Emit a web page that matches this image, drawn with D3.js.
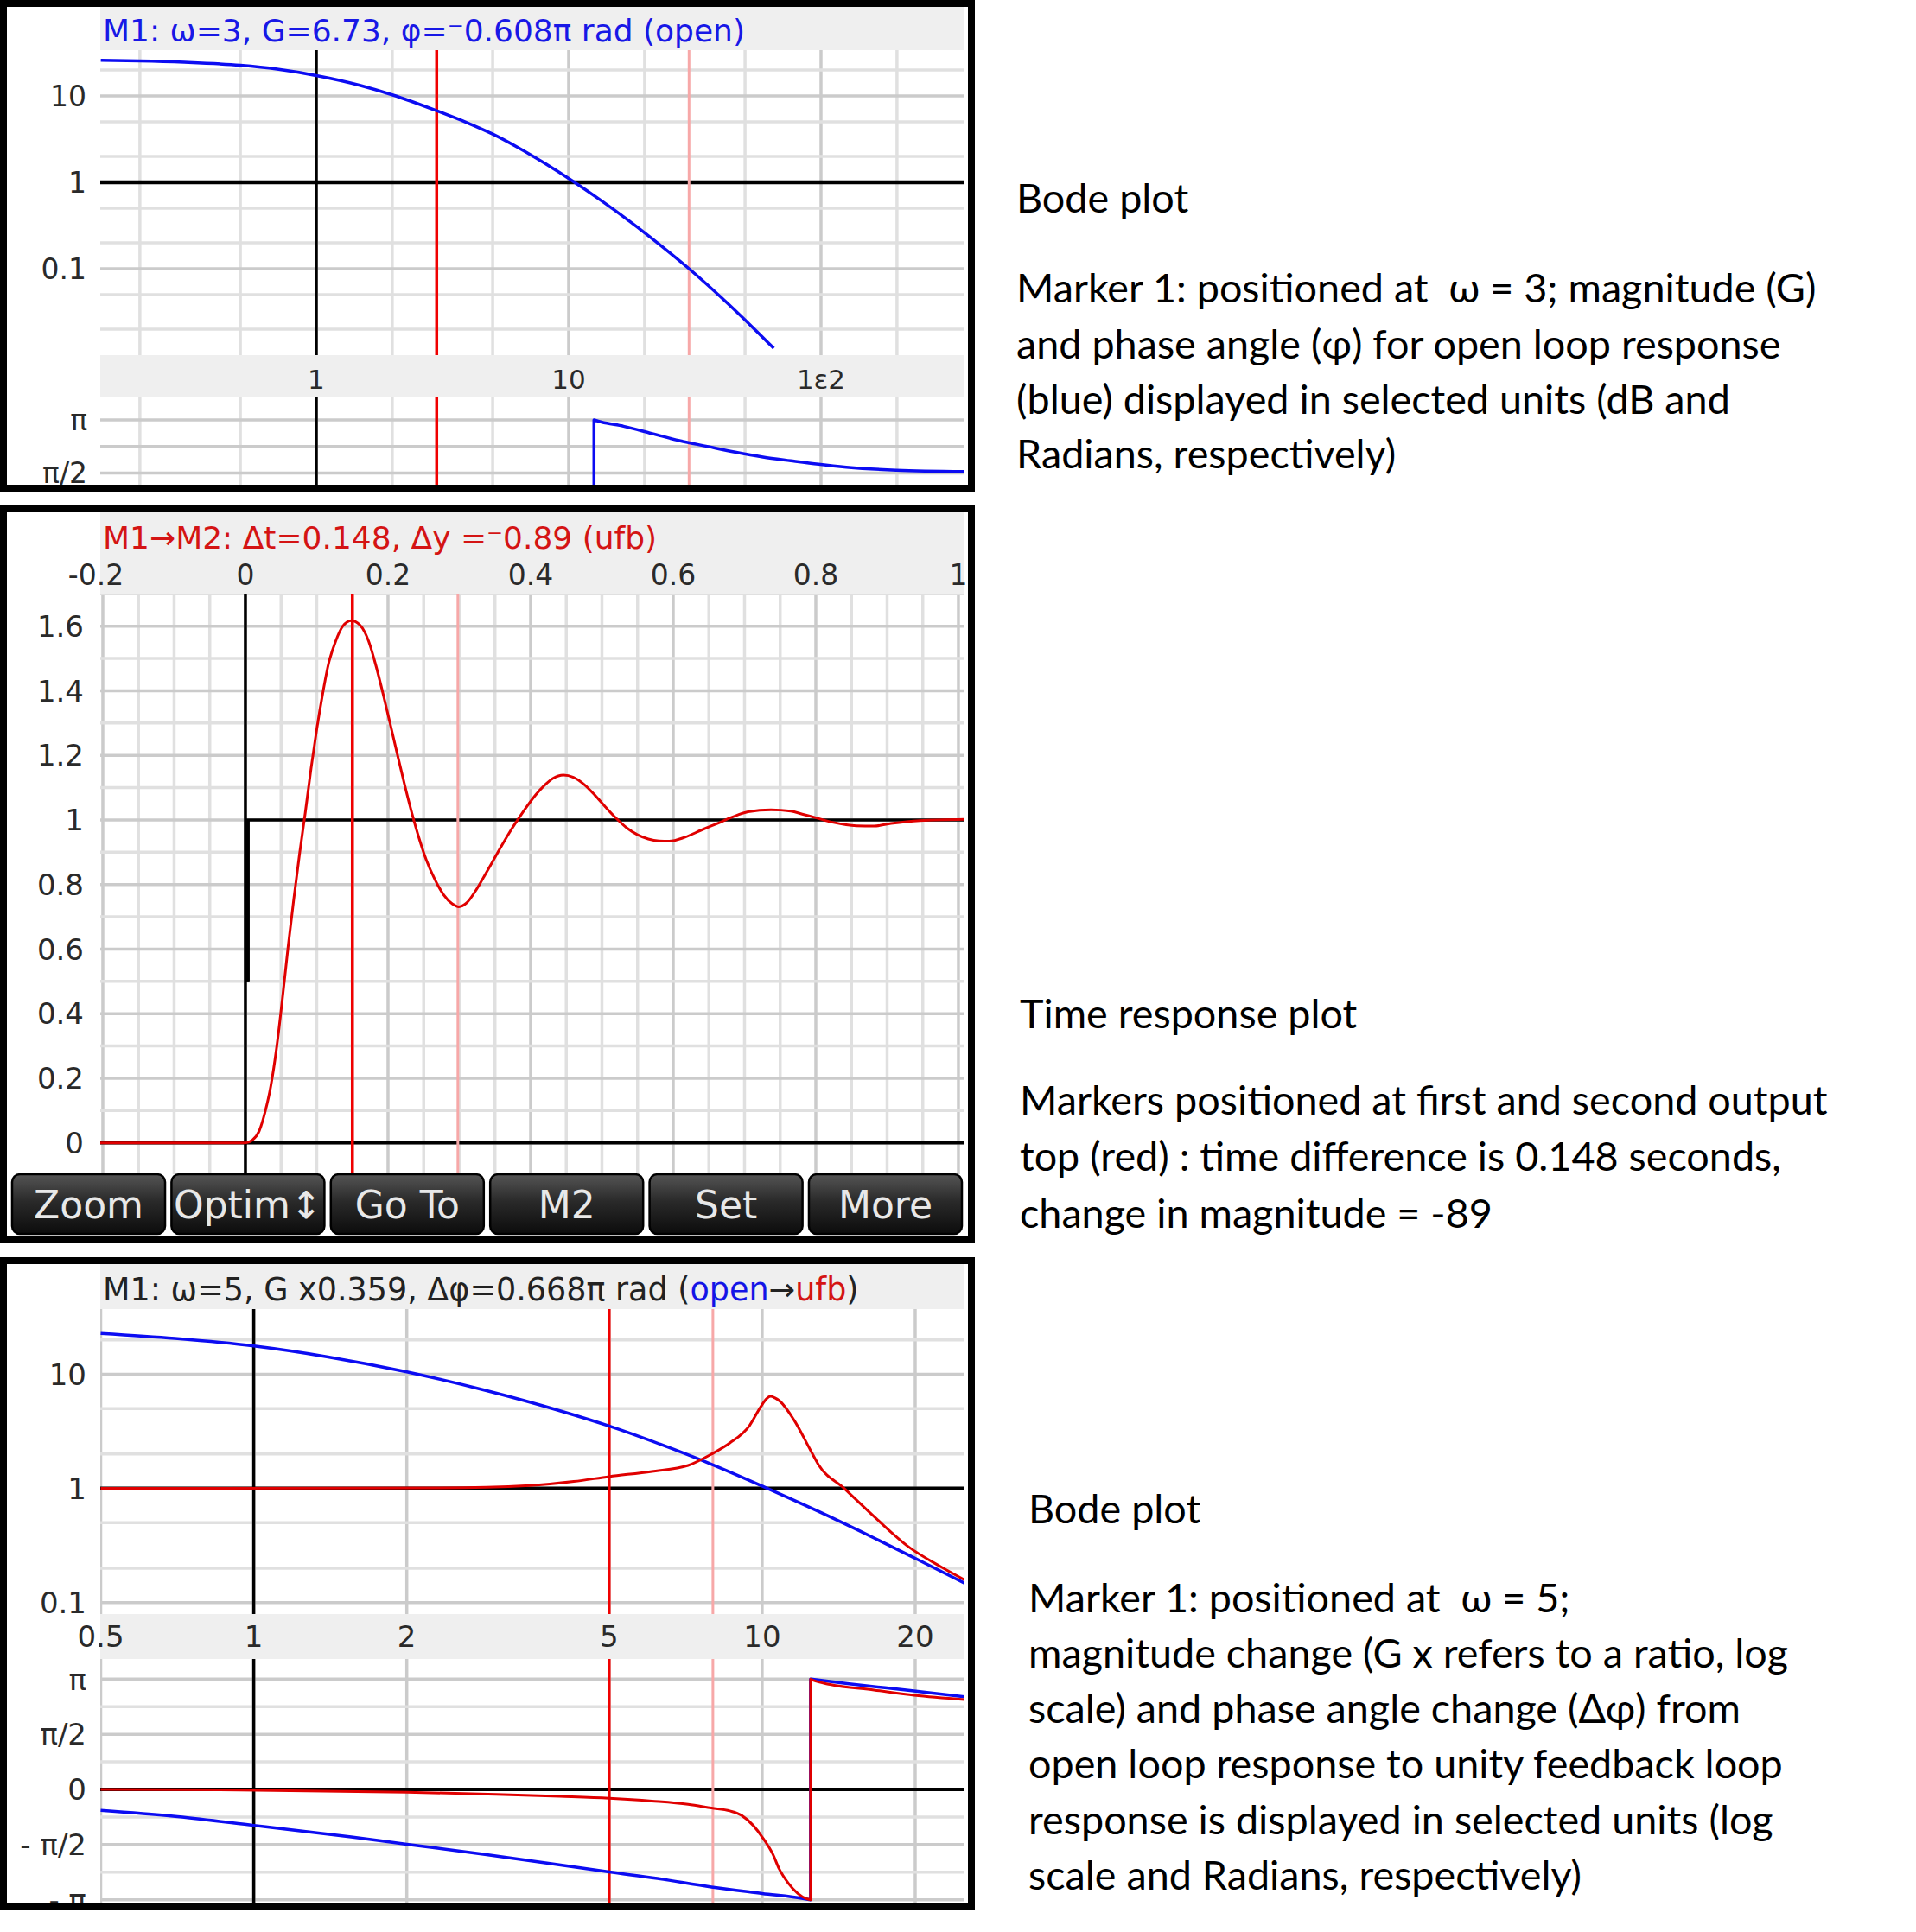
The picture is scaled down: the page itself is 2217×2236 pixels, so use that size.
<!DOCTYPE html>
<html><head><meta charset="utf-8">
<script src="https://cdn.jsdelivr.net/npm/d3@7"></script>
<style>body{margin:0;background:#fff}svg{display:block}</style>
</head><body>
<svg id="c" width="2217" height="2236"></svg>
<script>
// ================= DATA =================
// Panel 1 : open-loop Bode (marker at w=3)
const bode1Freq  = [0.14, 0.2, 0.3, 0.5, 0.7, 1, 1.5, 2, 3, 4, 5, 6.3, 8.1, 10.4, 13.5, 17.4, 20, 23, 30, 40, 54.5, 65];
const bode1Gain  = [25.8, 25.4, 24.5, 22.6, 20.4, 17.2, 13.2, 10.3, 6.74, 4.84, 3.62, 2.53, 1.64, 1.03, 0.611, 0.356, 0.261, 0.189, 0.1, 0.0473, 0.020, 0.012];
const bode1PhFreq = [12.6, 12.6, 13.5, 16.5, 21.3, 27.5, 35.4, 45.7, 58.9, 75.9, 97.8, 126, 199, 370];
const bode1Phase  = [-1.0, 1.0, 0.98, 0.94, 0.873, 0.805, 0.751, 0.697, 0.651, 0.616, 0.583, 0.556, 0.527, 0.514]; // x pi
const bode1Markers = [3, 30];
const bode1FreqGrid = [0.2, 0.5, 1, 2, 5, 10, 20, 50, 100, 200];
const bode1FreqTicks = [1, 10, 100];
const bode1FreqLabels = ["1", "10", "1\u03b52"];
const bode1GainGrid = [20, 10, 5, 2, 1, 0.5, 0.2, 0.1, 0.05, 0.02];
const bode1GainTicks = [10, 1, 0.1];
const bode1GainLabels = ["10", "1", "0.1"];
const bode1PhGrid = [1.25, 1, 0.75, 0.5];
const bode1PhTicks = [1, 0.5];
const bode1PhLabels = ["\u03c0", "\u03c0/2"];
const bode1Title = "M1: \u03c9=3, G=6.73, \u03c6=\u207b0.608\u03c0 rad (open)";

// Panel 2 : closed-loop step response
const stepT = [-0.2036, 0, 0.0093, 0.0194, 0.0275, 0.0356, 0.0436, 0.0517, 0.0598, 0.0679, 0.076, 0.084, 0.0921, 0.1002, 0.1083, 0.1164, 0.1265, 0.1366, 0.1487, 0.1608, 0.1729, 0.183, 0.1931, 0.2032, 0.2133, 0.2234, 0.2335, 0.2436, 0.2537, 0.2659, 0.278, 0.2901, 0.2994, 0.3103, 0.3224, 0.3345, 0.3467, 0.3588, 0.3709, 0.383, 0.3952, 0.4073, 0.4194, 0.4315, 0.446, 0.46, 0.475, 0.49, 0.505, 0.52, 0.535, 0.55, 0.565, 0.58, 0.594, 0.616, 0.64, 0.664, 0.682, 0.705, 0.737, 0.765, 0.781, 0.801, 0.825, 0.857, 0.8815, 0.9056, 0.9457, 1.0085];
const stepY = [0, 0, 0.008, 0.037, 0.095, 0.176, 0.292, 0.443, 0.606, 0.756, 0.896, 1.023, 1.16, 1.283, 1.39, 1.482, 1.553, 1.6, 1.617, 1.603, 1.553, 1.478, 1.39, 1.296, 1.201, 1.108, 1.021, 0.943, 0.876, 0.815, 0.768, 0.74, 0.731, 0.743, 0.779, 0.824, 0.871, 0.918, 0.963, 1.004, 1.043, 1.078, 1.107, 1.129, 1.139, 1.132, 1.11, 1.077, 1.04, 1.005, 0.975, 0.954, 0.941, 0.935, 0.934, 0.946, 0.969, 0.991, 1.008, 1.025, 1.031, 1.027, 1.018, 1.006, 0.992, 0.982, 0.981, 0.989, 0.998, 1.002];
const inputT = [0.003, 0.003, 1.0085];
const inputY = [0.5, 1, 1];
const stepMarkers = [0.150, 0.298];
const timeGrid = d3.range(-4, 21).map(i => i * 0.05);
const timeTicks = [-0.2, 0, 0.2, 0.4, 0.6, 0.8, 1];
const timeLabels = ["-0.2", "0", "0.2", "0.4", "0.6", "0.8", "1"];
const respGrid = d3.range(0, 18).map(i => i * 0.1);
const respTicks = [0, 0.2, 0.4, 0.6, 0.8, 1, 1.2, 1.4, 1.6];
const respLabels = ["0", "0.2", "0.4", "0.6", "0.8", "1", "1.2", "1.4", "1.6"];
const stepTitle = "M1\u2192M2: \u0394t=0.148, \u0394y =\u207b0.89 (ufb)";
const buttonLabels = ["Zoom", "Optim\u2195", "Go To", "M2", "Set", "More"];

// Panel 3 : open loop vs unity feedback Bode (marker at w=5)
const openFreq = [0.5, 0.7, 1, 1.4, 2, 2.85, 4, 5, 6.3, 8, 10, 12.9, 16.6, 20, 25];
const openGain = [22.8, 20.6, 17.7, 14.2, 10.5, 7.24, 4.79, 3.52, 2.44, 1.61, 1.05, 0.629, 0.368, 0.244, 0.148];
const ufbFreq = [0.5, 2.33, 3.49, 4.26, 5.0, 6.07, 7.15, 7.95, 8.64, 9.44, 9.93, 10.2, 10.39, 10.6, 10.84, 11.55, 12.45, 12.9, 14.5, 16.6, 19.4, 22.5, 25];
const ufbGain = [1.0, 1.01, 1.06, 1.15, 1.27, 1.41, 1.59, 2.0, 2.5, 3.54, 5.17, 6.1, 6.41, 6.2, 5.8, 3.98, 2.16, 1.62, 1.0, 0.567, 0.308, 0.205, 0.158];
const openPhFreq = [0.5, 0.694, 1, 1.555, 2, 2.85, 3.88, 5, 6.22, 7.95, 10, 12.1, 12.45, 12.45, 14.7, 19.9, 25];
const openPhase  = [-0.19, -0.243, -0.326, -0.431, -0.497, -0.589, -0.675, -0.748, -0.807, -0.885, -0.943, -0.99, -1.0, 1.0, 0.959, 0.893, 0.84];
const ufbPhFreq = [0.5, 0.94, 2, 3, 4, 5, 6.07, 7.15, 7.95, 8.64, 9.1, 9.6, 10.0, 10.5, 10.8, 11.26, 11.75, 12.2, 12.45, 12.45, 12.6, 13.6, 16.6, 19.9, 25];
const ufbPhase  = [0, -0.005, -0.025, -0.045, -0.063, -0.08, -0.105, -0.135, -0.169, -0.195, -0.234, -0.326, -0.431, -0.589, -0.72, -0.851, -0.943, -0.99, -1.0, 1.0, 0.99, 0.951, 0.901, 0.854, 0.815];
const bode3Markers = [5, 8];
const bode3FreqTicks = [0.5, 1, 2, 5, 10, 20];
const bode3FreqLabels = ["0.5", "1", "2", "5", "10", "20"];
const bode3GainGrid = [20, 10, 5, 2, 1, 0.5, 0.2, 0.1];
const bode3GainTicks = [10, 1, 0.1];
const bode3GainLabels = ["10", "1", "0.1"];
const bode3PhGrid = [1, 0.75, 0.5, 0.25, 0, -0.25, -0.5, -0.75, -1];
const bode3PhTicks = [1, 0.5, 0, -0.5, -1];
const bode3PhLabels = ["\u03c0", "\u03c0/2", "0", "- \u03c0/2", "- \u03c0"];

// Side notes
const note1 = ["Bode plot", "Marker 1: positioned at  \u03c9 = 3; magnitude (G)", "and phase angle (\u03c6) for open loop response", "(blue) displayed in selected units (dB and", "Radians, respectively)"];
const note2 = ["Time response plot", "Markers positioned at first and second output", "top (red) : time difference is 0.148 seconds,", "change in magnitude = -89"];
const note3 = ["Bode plot", "Marker 1: positioned at  \u03c9 = 5;", "magnitude change (G x refers to a ratio, log", "scale) and phase angle change (\u0394\u03c6) from", "open loop response to unity feedback loop", "response is displayed in selected units (log", "scale and Radians, respectively)"];

// ================= STYLE =================
const FONT = "'DejaVu Sans', Verdana, sans-serif";
const NOTEFONT = "Lato, 'Open Sans', sans-serif";
const BAND = "#efefef";
const GMIN = "#e0e0e0", GMAJ = "#cbcbcb";
const BLUE = "#0c0cf2", RED = "#e00000", MARK = "#f00000", PINK = "#f7a8a8", LBL = "#2a2a2a";

const svg = d3.select("#c");
svg.append("rect").attr("width", 2217).attr("height", 2236).attr("fill", "#fff");
const defs = svg.append("defs");
const grad = defs.append("linearGradient").attr("id", "btn").attr("x1", 0).attr("y1", 0).attr("x2", 0).attr("y2", 1);
grad.append("stop").attr("offset", "0%").attr("stop-color", "#555");
grad.append("stop").attr("offset", "45%").attr("stop-color", "#2a2a2a");
grad.append("stop").attr("offset", "100%").attr("stop-color", "#0c0c0c");

let clipN = 0;
function area(x0, y0, x1, y1, fill) {
  const id = "clip" + (clipN++);
  defs.append("clipPath").attr("id", id).append("rect")
    .attr("x", x0).attr("y", y0).attr("width", x1 - x0).attr("height", y1 - y0);
  const g = svg.append("g").attr("clip-path", `url(#${id})`);
  g.append("rect").attr("x", x0).attr("y", y0).attr("width", x1 - x0).attr("height", y1 - y0).attr("fill", fill || "#fff");
  return g;
}
function vlines(g, vals, xs, y0, y1, color, w) {
  g.selectAll(null).data(vals).enter().append("line")
    .attr("x1", d => xs(d)).attr("x2", d => xs(d)).attr("y1", y0).attr("y2", y1)
    .attr("stroke", typeof color === "function" ? color : () => color).attr("stroke-width", w);
}
function hlines(g, vals, ys, x0, x1, color, w) {
  g.selectAll(null).data(vals).enter().append("line")
    .attr("y1", d => ys(d)).attr("y2", d => ys(d)).attr("x1", x0).attr("x2", x1)
    .attr("stroke", typeof color === "function" ? color : () => color).attr("stroke-width", w);
}
const smooth = d3.line().curve(d3.curveMonotoneX);
function series(g, xv, yv, xs, ys, color, w) {
  const pts = xv.map((x, i) => [xs(x), ys(yv[i])]);
  const segs = [[pts[0]]];
  for (let i = 1; i < pts.length; i++) {
    if (pts[i][0] <= pts[i - 1][0] + 0.01) segs.push([pts[i]]);
    else segs[segs.length - 1].push(pts[i]);
  }
  let d = "";
  segs.forEach((s, k) => {
    let p = s.length > 1 ? smooth(s) : `M${s[0][0]},${s[0][1]}`;
    if (k > 0) p = p.replace(/^M/, "L");
    d += p;
  });
  g.append("path").attr("d", d).attr("fill", "none").attr("stroke", color)
    .attr("stroke-width", w).attr("stroke-linejoin", "round");
}
function label(x, y, txt, size, anchor, color) {
  return svg.append("text").attr("x", x).attr("y", y).attr("dy", "0.36em")
    .attr("font-family", FONT).attr("font-size", size).attr("text-anchor", anchor || "end")
    .attr("fill", color || LBL).text(txt);
}
function border(y0, y1) {
  svg.append("rect").attr("x", 4).attr("y", y0 + 4).attr("width", 1120).attr("height", y1 - y0 - 8)
    .attr("fill", "none").attr("stroke", "#000").attr("stroke-width", 8);
}
const L = 116, R = 1116;
const isDecade = v => Math.abs(Math.log10(v) - Math.round(Math.log10(v))) < 1e-6;

// ================= PANEL 1 =================
{
  const xs = d3.scaleLog().domain([0.1393, 370.3]).range([L, R]);
  const ysG = d3.scaleLog().domain([0.01, 33.9]).range([411, 58]);
  const ysP = d3.scaleLinear().domain([0.391, 1.211]).range([561, 460]);
  area(L, 8, R, 58, BAND);
  svg.append("text").attr("x", 119).attr("y", 48).attr("font-family", FONT).attr("font-size", 36)
    .attr("fill", "#1818e6").text(bode1Title);
  const gm = area(L, 58, R, 411);
  vlines(gm, bode1FreqGrid, xs, 58, 411, d => isDecade(d) ? GMAJ : GMIN, 3.5);
  hlines(gm, bode1GainGrid, ysG, L, R, d => isDecade(d) ? GMAJ : GMIN, 3.5);
  hlines(gm, [1], ysG, L, R, "#000", 4.5);
  vlines(gm, [1], xs, 58, 411, "#000", 3.5);
  vlines(gm, [bode1Markers[0]], xs, 58, 411, MARK, 3.5);
  vlines(gm, [bode1Markers[1]], xs, 58, 411, PINK, 3);
  series(gm, bode1Freq, bode1Gain, xs, ysG, BLUE, 3.5);
  area(L, 411, R, 460, BAND);
  bode1FreqTicks.forEach((v, i) => label(xs(v), 439, bode1FreqLabels[i], 31, "middle"));
  const gp = area(L, 460, R, 561);
  vlines(gp, bode1FreqGrid, xs, 460, 561, d => isDecade(d) ? GMAJ : GMIN, 3.5);
  hlines(gp, bode1PhGrid, ysP, L, R, GMAJ, 3.5);
  vlines(gp, [1], xs, 460, 561, "#000", 3.5);
  vlines(gp, [bode1Markers[0]], xs, 460, 561, MARK, 3.5);
  vlines(gp, [bode1Markers[1]], xs, 460, 561, PINK, 3);
  series(gp, bode1PhFreq, bode1Phase, xs, ysP, BLUE, 3.5);
  bode1GainTicks.forEach((v, i) => label(100, ysG(v), bode1GainLabels[i], 33));
  bode1PhTicks.forEach((v, i) => label(101, ysP(v), bode1PhLabels[i], 33));
  border(0, 569);
}

// ================= PANEL 2 =================
{
  const xs = d3.scaleLinear().domain([-0.2036, 1.0085]).range([L, R]);
  const ys = d3.scaleLinear().domain([-0.0971, 1.7007]).range([1359, 687]);
  area(L, 592, R, 687, BAND);
  svg.append("text").attr("x", 119).attr("y", 635).attr("font-family", FONT).attr("font-size", 36)
    .attr("fill", "#d41414").text(stepTitle);
  timeTicks.forEach((v, i) => label(xs(v) - (v < 0 ? 8 : 0), 665, timeLabels[i], 33, "middle"));
  const g = area(L, 687, R, 1359);
  const maj = v => Math.abs(v * 5 - Math.round(v * 5)) < 1e-6;
  vlines(g, timeGrid, xs, 687, 1359, d => maj(d) ? GMAJ : GMIN, 3.5);
  hlines(g, respGrid, ys, L, R, d => maj(d) ? GMAJ : GMIN, 3.5);
  vlines(g, [0], xs, 687, 1359, "#000", 3.5);
  hlines(g, [0], ys, L, R, "#000", 3.5);
  g.append("path").attr("d", d3.line()(inputT.map((t, i) => [xs(t), ys(inputY[i])])))
    .attr("fill", "none").attr("stroke", "#000").attr("stroke-width", 3.5);
  g.append("line").attr("x1", xs(inputT[0])).attr("x2", xs(inputT[0])).attr("y1", ys(0.5)).attr("y2", ys(1))
    .attr("stroke", "#000").attr("stroke-width", 5);
  vlines(g, [stepMarkers[0]], xs, 687, 1359, MARK, 3.5);
  vlines(g, [stepMarkers[1]], xs, 687, 1359, PINK, 3);
  series(g, stepT, stepY, xs, ys, RED, 3);
  respTicks.forEach((v, i) => label(97, ys(v), respLabels[i], 34));
  const bx = d3.scaleBand().domain(buttonLabels).range([14, 1113]).paddingInner(0.04);
  const bg = svg.append("g");
  buttonLabels.forEach(b => {
    bg.append("rect").attr("x", bx(b)).attr("y", 1359).attr("width", bx.bandwidth()).attr("height", 69)
      .attr("rx", 9).attr("fill", "url(#btn)").attr("stroke", "#000").attr("stroke-width", 2.5);
    bg.append("text").attr("x", bx(b) + bx.bandwidth() / 2).attr("y", 1394).attr("dy", "0.36em")
      .attr("text-anchor", "middle").attr("font-family", FONT).attr("font-size", 44)
      .attr("fill", "#e8e8e8").text(b);
  });
  border(584, 1439);
}

// ================= PANEL 3 =================
{
  const xs = d3.scaleLog().domain([0.5, 25]).range([116.5, R]);
  const ysG = d3.scaleLog().domain([0.0793, 37.3]).range([1868, 1515]);
  const ysP = d3.scaleLinear().domain([-1.026, 1.1825]).range([2202, 1920]);
  area(L, 1463, R, 1515, BAND);
  const t = svg.append("text").attr("x", 119).attr("y", 1505).attr("font-family", FONT)
    .attr("font-size", 36.5).attr("fill", "#222");
  t.append("tspan").text("M1: \u03c9=5, G x0.359, \u0394\u03c6=0.668\u03c0 rad (");
  t.append("tspan").attr("fill", "#1414e6").text("open");
  t.append("tspan").text("\u2192");
  t.append("tspan").attr("fill", "#d41414").text("ufb");
  t.append("tspan").text(")");
  const gm = area(L, 1515, R, 1868);
  vlines(gm, bode3FreqTicks, xs, 1515, 1868, GMAJ, 3.5);
  hlines(gm, bode3GainGrid, ysG, L, R, d => isDecade(d) ? GMAJ : GMIN, 3.5);
  hlines(gm, [1], ysG, L, R, "#000", 4);
  vlines(gm, [1], xs, 1515, 1868, "#000", 3.5);
  vlines(gm, [bode3Markers[0]], xs, 1515, 1868, MARK, 3.5);
  vlines(gm, [bode3Markers[1]], xs, 1515, 1868, PINK, 3);
  series(gm, openFreq, openGain, xs, ysG, BLUE, 3.5);
  series(gm, ufbFreq, ufbGain, xs, ysG, RED, 3);
  area(L, 1868, R, 1920, BAND);
  bode3FreqTicks.forEach((v, i) => label(xs(v), 1894, bode3FreqLabels[i], 34, "middle"));
  const gp = area(L, 1920, R, 2202);
  vlines(gp, bode3FreqTicks, xs, 1920, 2202, GMAJ, 3.5);
  hlines(gp, bode3PhGrid, ysP, L, R, d => (d * 2) % 1 === 0 ? GMAJ : GMIN, 3.5);
  hlines(gp, [0], ysP, L, R, "#000", 4);
  vlines(gp, [1], xs, 1920, 2202, "#000", 3.5);
  vlines(gp, [bode3Markers[0]], xs, 1920, 2202, MARK, 3.5);
  vlines(gp, [bode3Markers[1]], xs, 1920, 2202, PINK, 3);
  series(gp, openPhFreq, openPhase, xs, ysP, BLUE, 3.5);
  series(gp, ufbPhFreq, ufbPhase, xs, ysP, RED, 3);
  bode3GainTicks.forEach((v, i) => label(100, ysG(v), bode3GainLabels[i], 34));
  bode3PhTicks.forEach((v, i) => label(100, ysP(v), bode3PhLabels[i], 34));
  border(1455, 2210);
}

// ================= SIDE NOTES =================
{
  const probe = svg.append("text").attr("font-family", NOTEFONT).attr("font-size", 100).text(note2[1]);
  const w100 = probe.node().getComputedTextLength();
  probe.remove();
  const fs = Math.max(30, Math.min(50, 100 * 935 / w100));
  const blocks = [
    {x: 1176, y: [246, 350, 414.5, 479, 542], lines: note1},
    {x: 1180, y: [1190, 1290, 1355, 1421], lines: note2},
    {x: 1190, y: [1762.5, 1866, 1930, 1994, 2058, 2122.5, 2187], lines: note3}
  ];
  blocks.forEach(b => b.lines.forEach((s, i) => {
    svg.append("text").attr("x", b.x).attr("y", b.y[i]).attr("font-family", NOTEFONT)
      .attr("font-size", fs).attr("fill", "#000").style("white-space", "pre").text(s);
  }));
}
</script>
</body></html>
